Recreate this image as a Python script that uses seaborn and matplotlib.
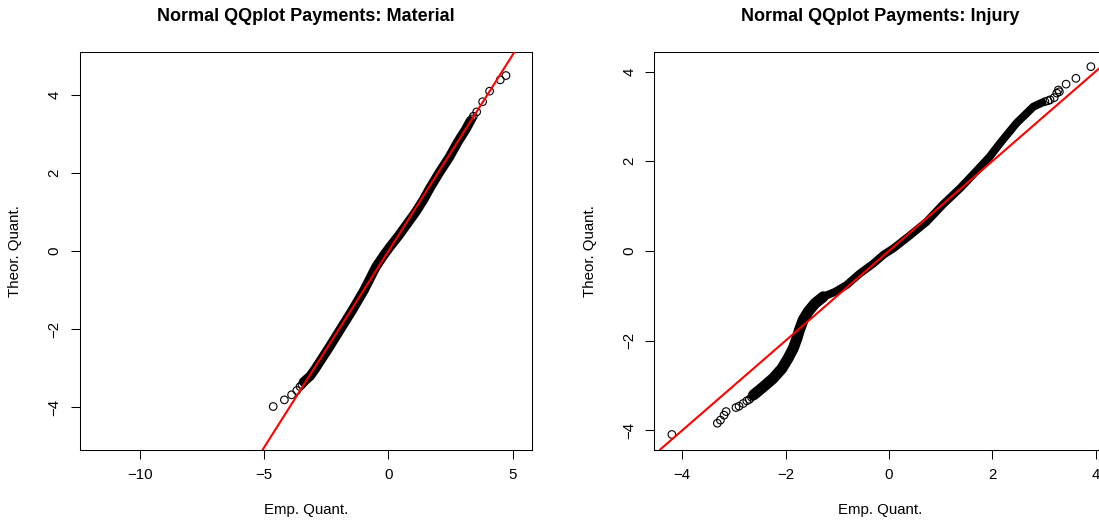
import matplotlib
matplotlib.use("Agg")
import matplotlib.pyplot as plt
import seaborn as sns

# ---------------- data ----------------
panel_titles = ["Normal QQplot Payments: Material", "Normal QQplot Payments: Injury"]
x_label = "Emp. Quant."
y_label = "Theor. Quant."

# Material: dense band of points (empirical, theoretical)
material_band_x = [-3.42, -3.15, -2.93, -2.42, -1.93, -1.44, -0.98, -0.74, -0.50, -0.18,
                   0.05, 0.42, 0.76, 1.10, 1.40, 1.66, 2.04, 2.45, 2.80, 3.10, 3.30]
material_band_y = [-3.35, -3.20, -3.00, -2.50, -2.00, -1.50, -1.00, -0.70, -0.40, -0.10,
                   0.10, 0.40, 0.70, 1.00, 1.30, 1.60, 2.00, 2.40, 2.80, 3.10, 3.33]
# Material: isolated tail points
material_tail_x = [-4.64, -4.19, -3.90, -3.69, -3.56, -3.48, -3.40,
                   3.36, 3.42, 3.55, 3.79, 4.07, 4.50, 4.73]
material_tail_y = [-3.98, -3.81, -3.68, -3.57, -3.47, -3.42, -3.36,
                   3.38, 3.45, 3.56, 3.82, 4.09, 4.38, 4.49]
material_line = [0.0, 1.004]          # intercept, slope

# Injury: lower (wider, steep) part of the band
injury_band_low_x = [-2.62, -2.43, -2.24, -2.07, -1.95, -1.85, -1.78, -1.73,
                     -1.66, -1.56, -1.43, -1.27]
injury_band_low_y = [-3.21, -3.03, -2.84, -2.62, -2.39, -2.17, -1.95, -1.76,
                     -1.54, -1.35, -1.17, -1.02]
# Injury: main part of the band
injury_band_x = [-1.27, -1.04, -0.82, -0.56, -0.30, -0.10, 0.09, 0.40, 0.73, 1.05,
                 1.38, 1.70, 1.95, 2.15, 2.47, 2.80, 2.97]
injury_band_y = [-1.02, -0.91, -0.76, -0.50, -0.28, -0.08, 0.06, 0.34, 0.65, 1.04,
                 1.40, 1.79, 2.10, 2.40, 2.85, 3.22, 3.31]
# Injury: isolated tail points
injury_tail_x = [-4.20, -3.32, -3.26, -3.19, -3.15, -2.96, -2.90, -2.82, -2.75, -2.70, -2.66,
                 3.02, 3.08, 3.12, 3.20, 3.25, 3.28, 3.30, 3.43, 3.62, 3.91]
injury_tail_y = [-4.09, -3.84, -3.77, -3.66, -3.58, -3.49, -3.46, -3.40, -3.34, -3.31, -3.26,
                 3.33, 3.35, 3.37, 3.42, 3.52, 3.59, 3.55, 3.72, 3.85, 4.11]
injury_line = [0.0, 1.0]              # intercept, slope

material_xticks = [-10, -5, 0, 5]
material_yticks = [-4, -2, 0, 2, 4]
injury_xticks = [-4, -2, 0, 2, 4]
injury_yticks = [-4, -2, 0, 2, 4]

# ---------------- style ----------------
sns.set_theme(style="white")
plt.rcParams["font.family"] = ["Liberation Sans", "DejaVu Sans"]
plt.rcParams["axes.unicode_minus"] = True

W, H = 1099, 527
fig = plt.figure(figsize=(W / 100, H / 100), dpi=100)
ax_l, ax_b, ax_w, ax_h = 79.7, 449.7, 452.6, 397.4
ax1 = fig.add_axes([ax_l / W, 1 - ax_b / H, ax_w / W, ax_h / H])
ax2 = fig.add_axes([654.3 / W, 1 - ax_b / H, ax_w / W, ax_h / H])

BASE = 10.8
PT = 0.72  # points per pixel at 100 dpi
MS = (7.6 * PT) ** 2


def style_axes(ax, title, xlim, ylim, xticks, yticks):
    ax.set_xlim(*xlim)
    ax.set_ylim(*ylim)
    ax.set_xticks(xticks)
    ax.set_yticks(yticks)
    ax.tick_params(axis="both", which="major", bottom=True, left=True, direction="out",
                   length=9 * PT, width=0.75, color="black", labelsize=BASE,
                   labelcolor="black")
    ax.tick_params(axis="x", pad=6.8)
    ax.tick_params(axis="y", pad=6.5)
    for lbl in ax.get_yticklabels():
        lbl.set_rotation(90)
        lbl.set_va("center")
    for sp in ax.spines.values():
        sp.set_visible(True)
        sp.set_color("black")
        sp.set_linewidth(0.75)
    ax.set_title(title, fontsize=BASE * 1.2, fontweight="bold", pad=22.7, color="black")
    ax.set_xlabel(x_label, fontsize=BASE, color="black")
    ax.set_ylabel(y_label, fontsize=BASE, color="black")
    ax.xaxis.label.set_va("center")
    ax.yaxis.label.set_va("center")
    ax.xaxis.set_label_coords(0.5, -0.1517)
    ax.yaxis.set_label_coords(-0.1420, 0.5)
    ax.set_facecolor("white")


# ---------------- Material ----------------
sns.lineplot(x=material_band_x, y=material_band_y, sort=False, estimator=None,
             color="black", linewidth=9.5 * PT, solid_capstyle="round", ax=ax1)
sns.scatterplot(x=material_tail_x, y=material_tail_y, marker="o", s=MS,
                facecolor="none", edgecolor="black", linewidth=0.8, ax=ax1, zorder=3)
ax1.axline((0, material_line[0]), slope=material_line[1], color="#FF0000", lw=1.5, zorder=4)
style_axes(ax1, panel_titles[0], (-12.43, 5.79), (-5.085, 5.085),
           material_xticks, material_yticks)

# ---------------- Injury ----------------
sns.lineplot(x=injury_band_low_x, y=injury_band_low_y, sort=False, estimator=None,
             color="black", linewidth=11 * PT, solid_capstyle="round", ax=ax2)
sns.lineplot(x=injury_band_x, y=injury_band_y, sort=False, estimator=None,
             color="black", linewidth=8 * PT, solid_capstyle="round", ax=ax2)
sns.scatterplot(x=injury_tail_x, y=injury_tail_y, marker="o", s=MS,
                facecolor="none", edgecolor="black", linewidth=0.8, ax=ax2, zorder=3)
ax2.axline((0, injury_line[0]), slope=injury_line[1], color="#FF0000", lw=1.5, zorder=4)
style_axes(ax2, panel_titles[1], (-4.54, 4.22), (-4.43, 4.43),
           injury_xticks, injury_yticks)

fig.savefig("out.png", dpi=100, facecolor="white")
